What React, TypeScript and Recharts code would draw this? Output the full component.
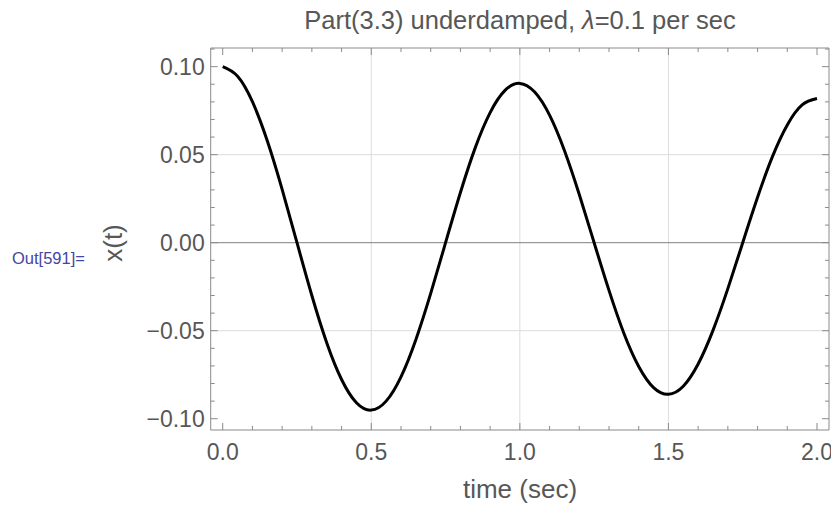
import { LineChart, Line, XAxis, YAxis, ReferenceLine } from 'recharts';

// time samples (sec) and displacement
const times = [
  0, 0.05, 0.1, 0.15, 0.2, 0.25, 0.3, 0.35, 0.4, 0.45, 0.5, 0.55, 0.6, 0.65, 0.7, 0.75, 0.8, 0.85, 0.9, 0.95,
  1.0, 1.05, 1.1, 1.15, 1.2, 1.25, 1.3, 1.35, 1.4, 1.45, 1.5, 1.55, 1.6, 1.65, 1.7, 1.75, 1.8, 1.85, 1.9, 1.95, 2.0,
];
const displacement = [
  0.1, 0.0946, 0.0801, 0.0579, 0.0303, 0, -0.03, -0.0568, -0.0777, -0.0909, -0.0951, -0.09, -0.0762, -0.0551,
  -0.0288, 0, 0.0285, 0.054, 0.0739, 0.0865, 0.0905, 0.0856, 0.0725, 0.0524, 0.0274, 0, -0.0271, -0.0514, -0.0703,
  -0.0823, -0.0861, -0.0815, -0.0689, -0.0498, -0.0261, 0, 0.0258, 0.0489, 0.0669, 0.0783, 0.0819,
];

const xTicks = [0, 0.1, 0.2, 0.3, 0.4, 0.5, 0.6, 0.7, 0.8, 0.9, 1.0, 1.1, 1.2, 1.3, 1.4, 1.5, 1.6, 1.7, 1.8, 1.9, 2.0];
const xMajor = [0, 0.5, 1.0, 1.5, 2.0];
const xMajorLabels = ['0.0', '0.5', '1.0', '1.5', '2.0'];
const yTicks = [-0.1, -0.09, -0.08, -0.07, -0.06, -0.05, -0.04, -0.03, -0.02, -0.01, 0, 0.01, 0.02, 0.03, 0.04, 0.05, 0.06, 0.07, 0.08, 0.09, 0.1, 0.11];
const yMajor = [-0.1, -0.05, 0, 0.05, 0.1];
const yMajorLabels = ['\u22120.10', '\u22120.05', '0.00', '0.05', '0.10'];
const xGrid = [0.5, 1.0, 1.5];
const yGrid = [-0.05, 0.05];

const data = times.map((t, i) => ({ t, x: displacement[i] }));

const FRAME = '#8a8a8a';
const TEXT = '#575757';
const FONT = '"Liberation Sans", Arial, Helvetica, sans-serif';
const MAJOR_LEN = 7;
const MINOR_LEN = 4;

const majorIndex = (v: number, list: number[]) => list.findIndex((m) => Math.abs(m - v) < 1e-9);

function makeTick(side: 'bottom' | 'top' | 'left' | 'right') {
  return (props: any) => {
    const { x, y, payload } = props;
    const v = payload.value as number;
    const isX = side === 'bottom' || side === 'top';
    const idx = majorIndex(v, isX ? xMajor : yMajor);
    const len = idx >= 0 ? MAJOR_LEN : MINOR_LEN;
    let x2 = x;
    let y2 = y;
    if (side === 'bottom') y2 = y - len;
    if (side === 'top') y2 = y + len;
    if (side === 'left') x2 = x + len;
    if (side === 'right') x2 = x - len;
    return (
      <g>
        <line x1={x} y1={y} x2={x2} y2={y2} stroke={FRAME} strokeWidth={1} />
        {idx >= 0 && side === 'bottom' && (
          <text x={x} y={y + 30} textAnchor="middle" fill={TEXT} fontSize={23} fontFamily={FONT}>
            {xMajorLabels[idx]}
          </text>
        )}
        {idx >= 0 && side === 'left' && (
          <text x={x - 6} y={y + 8} textAnchor="end" fill={TEXT} fontSize={23} fontFamily={FONT}>
            {yMajorLabels[idx]}
          </text>
        )}
      </g>
    );
  };
}

export default function App() {
  return (
    <div style={{ position: 'relative', width: 829, height: 498 }}>
      <LineChart
        width={829}
        height={498}
        data={data}
        margin={{ top: 39, right: 7, left: 201.7, bottom: 75 }}
        style={{ overflow: 'visible' }}
      >
        <XAxis
          dataKey="t"
          type="number"
          domain={[-0.0404, 2.0404]}
          ticks={xTicks}
          interval={0}
          height={1}
          tickSize={0}
          tickMargin={0}
          tickLine={false}
          tick={makeTick('bottom')}
          axisLine={{ stroke: FRAME }}
          allowDataOverflow
        />
        <XAxis
          xAxisId="top"
          orientation="top"
          dataKey="t"
          type="number"
          domain={[-0.0404, 2.0404]}
          ticks={xTicks}
          interval={0}
          height={1}
          tickSize={0}
          tickMargin={0}
          tickLine={false}
          tick={makeTick('top')}
          axisLine={{ stroke: FRAME }}
          allowDataOverflow
        />
        <YAxis
          type="number"
          domain={[-0.1064, 0.1106]}
          ticks={yTicks}
          interval={0}
          width={1}
          tickSize={0}
          tickMargin={0}
          tickLine={false}
          tick={makeTick('left')}
          axisLine={{ stroke: FRAME }}
          allowDataOverflow
        />
        <YAxis
          yAxisId="right"
          orientation="right"
          type="number"
          domain={[-0.1064, 0.1106]}
          ticks={yTicks}
          interval={0}
          width={1}
          tickSize={0}
          tickMargin={0}
          tickLine={false}
          tick={makeTick('right')}
          axisLine={{ stroke: FRAME }}
          allowDataOverflow
        />
        {xGrid.map((g) => (
          <ReferenceLine key={'vx' + g} x={g} stroke="#dcdcdc" strokeWidth={1} />
        ))}
        {yGrid.map((g) => (
          <ReferenceLine key={'hy' + g} y={g} stroke="#dcdcdc" strokeWidth={1} />
        ))}
        <ReferenceLine y={0} stroke="#808080" strokeWidth={1} />
        <Line
          dataKey="x"
          type="natural"
          stroke="#000000"
          strokeWidth={3}
          dot={false}
          activeDot={false}
          isAnimationActive={false}
        />
        <text x={512} y={490} textAnchor="middle" fill={TEXT} fontSize={26} fontFamily={FONT}>
          time (sec)
        </text>
        <text
          x={0}
          y={0}
          transform="translate(114 235) rotate(-90)"
          textAnchor="middle"
          fill={TEXT}
          fontSize={26}
          fontFamily={FONT}
        >
          x(t)
        </text>
      </LineChart>
      <div
        style={{
          position: 'absolute',
          left: 212,
          top: 0,
          width: 600,
          textAlign: 'center',
          fontFamily: FONT,
          fontSize: 25.5,
          lineHeight: 1,
          color: TEXT,
          whiteSpace: 'nowrap',
        }}
      >
        Part(3.3) underdamped, <i>λ</i>=0.1 per sec
      </div>
      <div
        style={{
          position: 'absolute',
          left: 4,
          top: 241,
          fontFamily: FONT,
          fontSize: 16.5,
          color: '#4545a3',
          whiteSpace: 'nowrap',
        }}
      >
        Out[591]=
      </div>
    </div>
  );
}
